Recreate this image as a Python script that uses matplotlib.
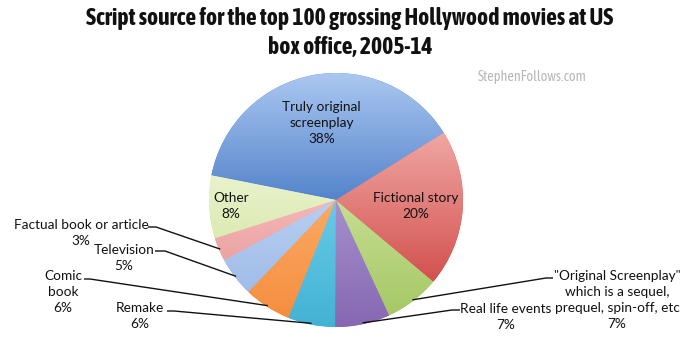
import numpy as np
import matplotlib
matplotlib.use("Agg")
import matplotlib.pyplot as plt
from matplotlib import font_manager
import matplotlib.patheffects as pe
from matplotlib.colors import to_rgb

# ---- data ----
categories = ["Truly original\nscreenplay", "Other", "Factual book or article", "Television",
              "Comic\nbook", "Remake", "Real life events",
              "\"Original Screenplay\"\nwhich is a sequel,\nprequel, spin-off, etc",
              "Fictional story"]
values = [38, 8, 3, 5, 6, 6, 7, 7, 20]
pct_labels = ["38%", "8%", "3%", "5%", "6%", "6%", "7%", "7%", "20%"]

title = "Script source for the top 100 grossing Hollywood movies at US\nbox office, 2005-14"
watermark = "StephenFollows.com"

# ---- style ----
base_colors = ["#5584CC", "#DCEAB2", "#EBA3A3", "#A0BCE8", "#F58E3E",
               "#44B2D4", "#8668B2", "#A6C866", "#D2514E"]
top_colors = ["#AAC7F0", "#EAF3CD", "#F5B8B8", "#B8CFF2", "#FBAA66",
              "#66CBE8", "#A690CC", "#C6DE92", "#F0A6A3"]

def _w(f):
    w = f.weight
    if isinstance(w, str):
        return 700 if "bold" in w.lower() or "black" in w.lower() or "heavy" in w.lower() else 400
    return int(w)

cond = [f for f in font_manager.fontManager.ttflist if ("Condensed" in f.name or "Narrow" in f.name)]
bold_cond = sorted({f.name for f in cond if _w(f) >= 600 and f.style == "normal"})
any_cond = sorted({f.name for f in cond})
if bold_cond:
    TITLE, fake_bold = [bold_cond[0], "DejaVu Sans"], False
elif any_cond:
    TITLE, fake_bold = [any_cond[0], "DejaVu Sans"], True
else:
    TITLE, fake_bold = ["Roboto", "DejaVu Sans"], False
have_cond = bool(any_cond)
BODY = ["Lato", "DejaVu Sans"]

W, H = 700, 350
fig = plt.figure(figsize=(7, 3.5), dpi=100)
ax = fig.add_axes([0, 0, 1, 1])

cx, cy, R = 336, H - 200, 127
wedges, _ = ax.pie(values, startangle=32, counterclock=True, center=(cx, cy),
                   radius=R, colors=base_colors, wedgeprops=dict(linewidth=0))

for w, c0, c1 in zip(wedges, top_colors, base_colors):
    ext = w.get_path().get_extents()
    a, b = np.array(to_rgb(c0)), np.array(to_rgb(c1))
    t = np.linspace(0, 1, 64)[:, None]
    grad = (a * (1 - t) + b * t)[:, None, :]
    im = ax.imshow(grad, extent=(ext.x0, ext.x1, ext.y0, ext.y1), origin="upper",
                   aspect="auto", zorder=w.get_zorder() + 0.1, interpolation="bilinear")
    im.set_clip_path(w)

def mid_point(w, frac):
    ang = np.deg2rad((w.theta1 + w.theta2) / 2)
    return cx + frac * R * np.cos(ang), cy + frac * R * np.sin(ang)

FS = 9.8
LS = 1.4
inside = {0: 0.62, 1: 0.83, 8: 0.63}
for i, frac in inside.items():
    x, y = mid_point(wedges[i], frac)
    ax.text(x, y, categories[i] + "\n" + pct_labels[i], ha="center", va="center",
            fontsize=FS, family=BODY, color="#111111", linespacing=LS, zorder=10)

outside = {
    2: (81, 233, 148, 227, 156),
    3: (124, 258, 155, 251, 165),
    4: (63, 292, 84, 279, 90),
    5: (140, 316, 167, 311, 174),
    6: (506, 317, 460, 310, 452),
    7: (617, 300, 553, 278, 546),
}
for i, (tx, ty, lx, ly, kx) in outside.items():
    ax.text(tx, H - ty, categories[i] + "\n" + pct_labels[i], ha="center", va="center",
            fontsize=FS, family=BODY, color="#111111", linespacing=LS, zorder=10)
    ex, ey = mid_point(wedges[i], 0.99)
    ax.plot([lx, kx, ex], [H - ly, H - ly, ey], color="#111111", lw=1.0,
            solid_capstyle="butt", zorder=9)

tsize = 17 if have_cond else 13
t = fig.text(0.5, 1 - 33 / H, title, ha="center", va="center", fontsize=tsize,
             fontweight="bold", family=TITLE, color="#111111", linespacing=1.3)
if fake_bold:
    t.set_path_effects([pe.withStroke(linewidth=1.1, foreground="#111111")])
ax.text(532, H - 77, watermark, ha="center", va="center",
        fontsize=10.3 if have_cond else 9, family=TITLE, color="#B8B8B8")

ax.set_xlim(0, W)
ax.set_ylim(0, H)
ax.set_aspect("equal")
ax.axis("off")
fig.savefig("out.png", dpi=100)
